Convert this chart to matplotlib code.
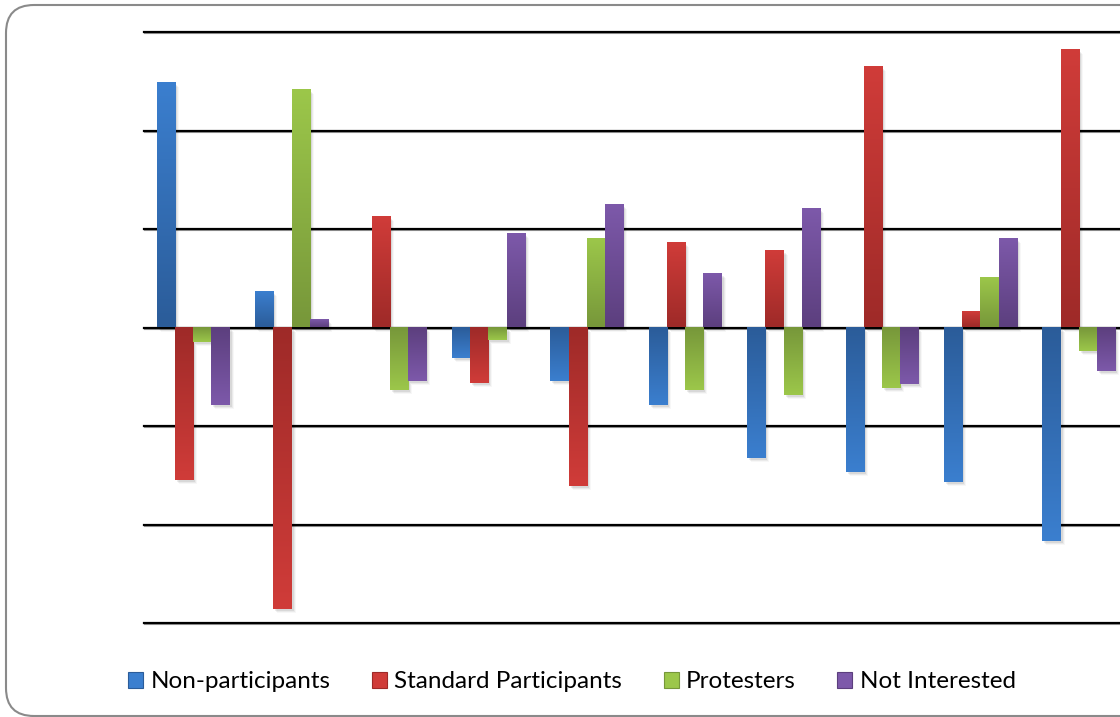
import numpy as np
import matplotlib.pyplot as plt
import matplotlib.transforms as mtransforms
from matplotlib.colors import LinearSegmentedColormap
from matplotlib.patches import FancyBboxPatch, Rectangle, Patch

plt.rcParams['font.family'] = ['Lato', 'DejaVu Sans']

groups = np.arange(10)
series_names = ["Non-participants", "Standard Participants", "Protesters", "Not Interested"]
non_participants = [2.48, 0.36, 0.0, -0.31, -0.54, -0.79, -1.32, -1.47, -1.57, -2.17]
standard_participants = [-1.55, -2.86, 1.12, -0.56, -1.61, 0.86, 0.78, 2.64, 0.16, 2.82]
protesters = [-0.15, 2.41, -0.63, -0.13, 0.90, -0.63, -0.69, -0.61, 0.50, -0.24]
not_interested = [-0.79, 0.08, -0.54, 0.95, 1.24, 0.54, 1.20, -0.57, 0.90, -0.44]
series = [non_participants, standard_participants, protesters, not_interested]

# (dark near zero, light at the bar end)
shades = [("#2b5c99", "#3b7fcf"),
          ("#9e2a28", "#d03c39"),
          ("#77973a", "#9cc74a"),
          ("#5c3f7e", "#7d59aa")]

fig = plt.figure(figsize=(11.2, 7.17), dpi=100)
ax = fig.add_axes([144 / 1120, 1 - 623 / 717, 984 / 1120, 591 / 717])

# rounded outer frame
frame = FancyBboxPatch((6, 1), 1150, 711, boxstyle="round,pad=0,rounding_size=28",
                       transform=mtransforms.IdentityTransform(),
                       facecolor="white", edgecolor="#8a8a8a", linewidth=1.5, zorder=-10)
fig.patches.append(frame)

w = 0.185
offsets = (np.arange(4) - 1.5) * w
grad = np.linspace(0, 1, 256).reshape(-1, 1)

for k, vals in enumerate(series):
    cmap = LinearSegmentedColormap.from_list("c%d" % k, shades[k])
    for g, v in zip(groups, vals):
        if v == 0:
            continue
        x0 = g + offsets[k] - w / 2
        # soft drop shadow
        for i, a in enumerate([0.07, 0.05, 0.03]):
            sh = mtransforms.offset_copy(ax.transData, fig=fig, x=2 + i, y=-2 - i, units="dots")
            ax.add_patch(Rectangle((x0, 0), w, v, transform=sh, facecolor="black",
                                   alpha=a, linewidth=0, zorder=2))
        ax.imshow(grad, cmap=cmap, origin="lower", aspect="auto",
                  extent=(x0, x0 + w, 0, v), interpolation="bilinear", zorder=3)

for y in range(-3, 4):
    ax.axhline(y, color="black", linewidth=1.6, clip_on=False, zorder=1)
    ax.axhline(y - 0.012, color="#9a9a9a", linewidth=0.8, clip_on=False, zorder=0.9)

ax.set_xlim(-0.5, 9.5)
ax.set_ylim(-3, 3)
ax.axis("off")

handles = [Patch(facecolor=shades[k][1], edgecolor=shades[k][0], linewidth=0.8)
           for k in range(4)]
fig.legend(handles, series_names, loc="center", bbox_to_anchor=(572 / 1120, 1 - 682 / 717),
           ncol=4, frameon=False, fontsize=17.5, handlelength=0.62, handleheight=0.62,
           handletextpad=0.3, columnspacing=1.7)

fig.savefig("out.png", dpi=100)
